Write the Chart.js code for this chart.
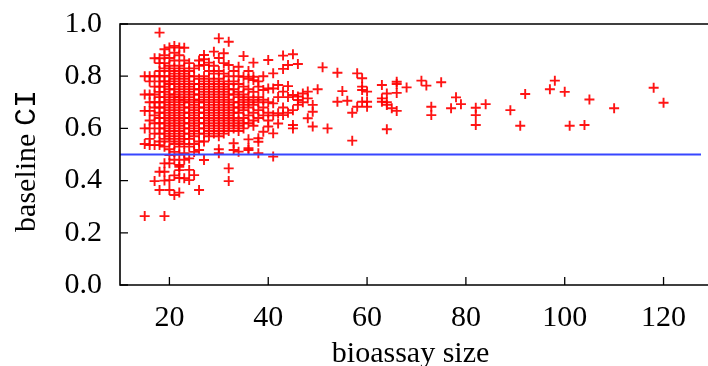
<!DOCTYPE html>
<html><head><meta charset="utf-8">
<script src="https://cdn.jsdelivr.net/npm/chart.js@4/dist/chart.umd.min.js"></script>
<style>html,body{margin:0;padding:0;background:#fff;}#wrap{width:708px;height:366px;position:relative;}</style>
</head><body><div id="wrap"><canvas id="c" width="708" height="366"></canvas></div>
<script>
// bioassay sizes (x) and the baseline CI values observed at each size
const sizes = [15,16,17,18,19,20,21,22,23,24,25,26,27,28,29,30,31,32,33,34,35,36,37,38,39,40,41,42,43,44,45,46,47,48,49,50,51,52,54,55,56,57,58,59,60,63,64,65,66,68,71,72,73,75,77,78,79,82,84,89,91,92,97,98,100,101,104,105,110,118,120];
const ciBySize = [
 [0.80,0.73,0.667,0.60,0.54,0.264],
 [0.80,0.78,0.73,0.70,0.667,0.63,0.60,0.56,0.536],
 [0.869,0.80,0.76,0.73,0.70,0.68,0.65,0.62,0.58,0.536,0.398],
 [0.967,0.869,0.85,0.82,0.80,0.78,0.76,0.74,0.72,0.70,0.68,0.66,0.64,0.62,0.60,0.58,0.55,0.536,0.434,0.364],
 [0.903,0.88,0.85,0.83,0.80,0.78,0.76,0.74,0.72,0.70,0.68,0.66,0.64,0.62,0.60,0.58,0.56,0.53,0.466,0.434,0.40,0.264],
 [0.91,0.87,0.84,0.82,0.80,0.78,0.77,0.75,0.73,0.71,0.69,0.67,0.65,0.63,0.61,0.59,0.57,0.55,0.52,0.498,0.466,0.402,0.364],
 [0.916,0.89,0.86,0.83,0.81,0.79,0.77,0.75,0.73,0.72,0.70,0.68,0.66,0.64,0.62,0.60,0.58,0.56,0.54,0.51,0.48,0.42,0.345],
 [0.91,0.88,0.84,0.82,0.80,0.78,0.76,0.74,0.72,0.71,0.69,0.67,0.65,0.63,0.61,0.59,0.57,0.55,0.53,0.50,0.46,0.453,0.44,0.41,0.354],
 [0.909,0.86,0.83,0.81,0.79,0.77,0.75,0.73,0.71,0.70,0.68,0.66,0.64,0.62,0.60,0.58,0.56,0.54,0.505,0.48,0.409],
 [0.85,0.82,0.80,0.78,0.76,0.74,0.72,0.70,0.68,0.66,0.64,0.62,0.60,0.58,0.56,0.53,0.485,0.441,0.402],
 [0.83,0.80,0.77,0.75,0.73,0.71,0.69,0.67,0.65,0.63,0.61,0.59,0.57,0.54,0.51,0.421],
 [0.86,0.84,0.79,0.77,0.75,0.73,0.71,0.70,0.68,0.66,0.64,0.62,0.60,0.58,0.55,0.517,0.364],
 [0.881,0.865,0.843,0.80,0.78,0.76,0.74,0.72,0.70,0.68,0.66,0.64,0.62,0.60,0.58,0.55,0.479],
 [0.852,0.82,0.79,0.77,0.75,0.73,0.71,0.69,0.67,0.65,0.63,0.61,0.59,0.57],
 [0.894,0.84,0.81,0.78,0.76,0.74,0.72,0.70,0.68,0.66,0.64,0.62,0.60,0.58],
 [0.945,0.87,0.82,0.79,0.77,0.75,0.73,0.71,0.69,0.67,0.65,0.63,0.61,0.59,0.57,0.52,0.505],
 [0.888,0.85,0.81,0.78,0.76,0.74,0.72,0.70,0.68,0.66,0.64,0.62,0.60,0.58],
 [0.932,0.843,0.80,0.77,0.75,0.73,0.71,0.69,0.67,0.65,0.63,0.61,0.59,0.447,0.398],
 [0.82,0.78,0.75,0.73,0.70,0.68,0.66,0.64,0.62,0.60,0.543,0.517],
 [0.836,0.80,0.77,0.74,0.72,0.70,0.68,0.66,0.63,0.61,0.59,0.511],
 [0.877,0.798,0.76,0.73,0.71,0.69,0.67,0.64,0.62,0.60],
 [0.82,0.79,0.75,0.72,0.70,0.68,0.65,0.62,0.558,0.524,0.517],
 [0.852,0.798,0.785,0.74,0.71,0.69,0.66,0.63,0.61],
 [0.78,0.76,0.72,0.70,0.67,0.64,0.562,0.549,0.505],
 [0.80,0.747,0.71,0.68,0.65,0.587],
 [0.862,0.753,0.70,0.66,0.63,0.607],
 [0.811,0.753,0.696,0.65,0.581,0.492],
 [0.766,0.72,0.658,0.619],
 [0.879,0.828,0.741,0.68,0.651],
 [0.843,0.762,0.72,0.66],
 [0.884,0.728,0.670,0.613,0.600],
 [0.847,0.722,0.709,0.69],
 [0.734,0.70],
 [0.741,0.715,0.639],
 [0.69,0.664,0.607],
 [0.75],
 [0.834],
 [0.600],
 [0.813,0.702],
 [0.743],
 [0.706],
 [0.660,0.553],
 [0.811,0.683],
 [0.792,0.76,0.747,0.702],
 [0.741,0.702,0.683],
 [0.766,0.715,0.702],
 [0.734,0.70,0.69,0.597],
 [0.677],
 [0.779,0.77,0.736,0.667],
 [0.757],
 [0.783],
 [0.764],
 [0.683,0.651],
 [0.777],
 [0.677],
 [0.719],
 [0.693],
 [0.679,0.651,0.613],
 [0.693],
 [0.670],
 [0.610],
 [0.732],
 [0.750],
 [0.783],
 [0.740],
 [0.610],
 [0.613],
 [0.711],
 [0.677],
 [0.756],
 [0.698]
];
const xTicks = [20,40,60,80,100,120];
const yTicks = [0.0,0.2,0.4,0.6,0.8,1.0];
const xRange = [10,127.6];
const yRange = [0,1];
const thresholdCI = 0.5;
const xTitle = 'bioassay size';
const yTitleWord = 'baseline ';
const yTitleCode = 'CI';

const points = [];
sizes.forEach((s,i)=>ciBySize[i].forEach(v=>points.push({x:s,y:v})));

const SERIF = '"Liberation Serif", "Times New Roman", serif';
const MONO = '"Liberation Mono", "DejaVu Sans Mono", monospace';

const framePlugin = {
  id:'frame',
  afterDraw(chart){
    const ctx = chart.ctx, a = chart.chartArea;
    const xs = chart.scales.x, ys = chart.scales.y;
    ctx.save();
    ctx.strokeStyle = '#000';
    ctx.lineWidth = 1.6;
    ctx.beginPath();
    ctx.moveTo(chart.width, a.top); ctx.lineTo(a.left, a.top);
    ctx.lineTo(a.left, a.bottom); ctx.lineTo(chart.width, a.bottom);
    ctx.stroke();
    ctx.lineWidth = 1.3;
    ctx.beginPath();
    xTicks.forEach(v=>{const p = xs.getPixelForValue(v); ctx.moveTo(p, a.bottom); ctx.lineTo(p, a.bottom-8);});
    yTicks.forEach(v=>{const p = ys.getPixelForValue(v); ctx.moveTo(a.left, p); ctx.lineTo(a.left+8, p);});
    ctx.stroke();
    // y axis title: serif word + typewriter code
    ctx.fillStyle = '#000';
    ctx.textBaseline = 'alphabetic';
    ctx.textAlign = 'left';
    const f1 = '30px ' + SERIF, f2 = '30px ' + MONO;
    ctx.font = f1; const w1 = ctx.measureText(yTitleWord).width;
    ctx.font = f2; const w2 = ctx.measureText(yTitleCode).width;
    const total = w1 + w2;
    const cy = 161;
    ctx.translate(35, cy + total/2);
    ctx.rotate(-Math.PI/2);
    ctx.font = f1; ctx.fillText(yTitleWord, 0, 0);
    ctx.font = f2; ctx.fillText(yTitleCode, w1, 0);
    ctx.restore();
  }
};

new Chart(document.getElementById('c'), {
  data: {
    datasets: [
      {type:'line', data:[{x:xRange[0],y:thresholdCI},{x:xRange[1],y:thresholdCI}],
       borderColor:'rgb(55,70,255)', borderWidth:2, pointRadius:0, fill:false},
      {type:'scatter', data:points, pointStyle:'cross', pointRadius:5, pointHoverRadius:5,
       borderColor:'rgba(255,0,0,0.92)', backgroundColor:'rgba(255,0,0,0.92)', pointBorderWidth:1.9, borderWidth:1.9}
    ]
  },
  options: {
    responsive:false, devicePixelRatio:1, animation:false,
    layout:{padding:{top:24,right:0,left:0,bottom:0}},
    plugins:{legend:{display:false}, tooltip:{enabled:false}},
    scales:{
      x:{type:'linear', min:xRange[0], max:xRange[1],
         afterBuildTicks:s=>{s.ticks = xTicks.map(v=>({value:v}));},
         afterFit:s=>{s.height = 81; s.paddingLeft = 0; s.paddingRight = 0;},
         grid:{display:false, drawTicks:false}, border:{display:false},
         ticks:{color:'#000', font:{family:SERIF, size:30}, padding:15, maxRotation:0, autoSkip:false},
         title:{display:true, text:xTitle, color:'#000', font:{family:SERIF, size:30, lineHeight:0.8}, padding:{top:0,bottom:0}}
      },
      y:{type:'linear', min:yRange[0], max:yRange[1],
         afterBuildTicks:s=>{s.ticks = yTicks.map(v=>({value:v}));},
         afterFit:s=>{s.width = 120; s.paddingTop = 0; s.paddingBottom = 0;},
         grid:{display:false, drawTicks:false}, border:{display:false},
         ticks:{color:'#000', font:{family:SERIF, size:30}, padding:18, callback:v=>Number(v).toFixed(1), autoSkip:false}
      }
    }
  },
  plugins:[framePlugin]
});
</script>
</body></html>
